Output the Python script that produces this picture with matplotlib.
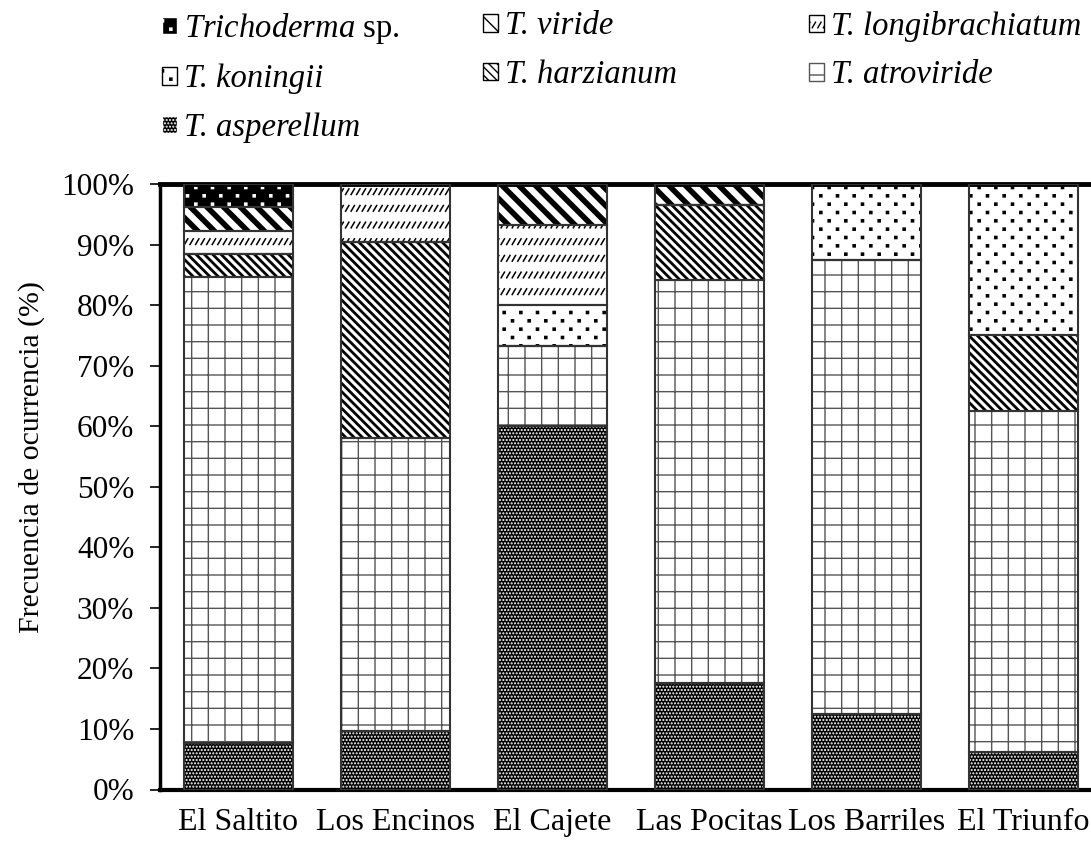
import matplotlib
matplotlib.use('Agg')
import matplotlib.pyplot as plt
from matplotlib import hatch as mhatch
from matplotlib.path import Path
from matplotlib.patches import Patch
import numpy as np

plt.rcParams['font.family'] = 'Liberation Serif'
plt.rcParams['mathtext.fontset'] = 'custom'
plt.rcParams['mathtext.rm'] = 'Liberation Serif'
plt.rcParams['mathtext.it'] = 'Liberation Serif:italic'

# data (% of isolates per site)
sites = ['El Saltito', 'Los Encinos', 'El Cajete', 'Las Pocitas', 'Los Barriles', 'El Triunfo']
asperellum = [7.7, 9.7, 60.0, 17.6, 12.5, 6.25]
atroviride = [76.9, 48.4, 13.3, 66.6, 75.0, 56.25]
harzianum = [3.85, 32.3, 0, 12.4, 0, 12.5]
koningii = [0, 0, 6.7, 0, 12.5, 25.0]
longibrachiatum = [3.85, 9.6, 13.3, 0, 0, 0]
viride = [3.85, 0, 6.7, 3.4, 0, 0]
tricho_sp = [3.85, 0, 0, 0, 0, 0]

yticks = [0, 10, 20, 30, 40, 50, 60, 70, 80, 90, 100]


# two extra hatch textures like the Excel ones:
# 'o' -> sparse staggered small dots, 'O' -> rows of short slashes
class SparseDots(mhatch.HatchPatternBase):
    def __init__(self, hatch, density):
        self.n = hatch.count('o') * density
        sq = Path.unit_rectangle()
        self.sv = (sq.vertices - 0.5) * 0.022
        self.sc = sq.codes
        pts = []
        if self.n:
            dx = 1.0 / self.n
            dy = dx / 2
            for r in range(2 * self.n):
                off = 0.25 * dx if r % 2 == 0 else 0.75 * dx
                for c in range(self.n):
                    pts.append((c * dx + off, r * dy + dy / 2))
        self.pts = pts
        self.num_vertices = len(pts) * len(self.sv)

    def set_vertices_and_codes(self, vertices, codes):
        vertices[:] = np.concatenate([self.sv + p for p in self.pts])
        codes[:] = np.tile(self.sc, len(self.pts))


class ShortSlashes(mhatch.HatchPatternBase):
    def __init__(self, hatch, density):
        self.n = hatch.count('O') * density
        self.m = 3 * self.n
        self.num_vertices = 2 * self.n * self.m

    def set_vertices_and_codes(self, vertices, codes):
        dy = 1.0 / self.n
        dx = 1.0 / self.m
        v = []
        for r in range(self.n):
            for c in range(self.m):
                x0, y0 = (c + 0.5) * dx, (r + 0.5) * dy
                v.append((x0 - 0.3 * dx, y0 - 0.17 * dy))
                v.append((x0 + 0.3 * dx, y0 + 0.17 * dy))
        vertices[:] = v
        codes[0::2] = Path.MOVETO
        codes[1::2] = Path.LINETO


mhatch._hatch_types = [t for t in mhatch._hatch_types
                       if t not in (mhatch.SmallCircles, mhatch.LargeCircles)]
mhatch._hatch_types += [SparseDots, ShortSlashes]

# stacking order bottom -> top: (values, label, face, hatchcolor, hatch, hatch lw)
series = [
    (asperellum, 'T. asperellum', 'black', 'white', '.....', 1.0),
    (atroviride, 'T. atroviride', 'white', '#555555', '+', 1.0),
    (harzianum, 'T. harzianum', 'white', 'black', '\\\\\\\\', 2.0),
    (koningii, 'T. koningii', 'white', 'black', 'o', 1.0),
    (longibrachiatum, 'T. longibrachiatum', 'white', 'black', 'O', 1.1),
    (viride, 'T. viride', 'white', 'black', '\\\\', 4.0),
    (tricho_sp, r'Trichoderma $\mathrm{sp.}$', 'black', 'white', 'o', 1.0),
]

fig = plt.figure(figsize=(10.91, 8.42), dpi=100)
ax = fig.add_axes([160/1091, 1-789.5/842, 942/1091, 605.5/842])

x = np.arange(len(sites))
w = 0.69
bottom = np.zeros(len(sites))
handles = {}
for vals, lab, fc, hc, hatch, hlw in series:
    vals = np.array(vals, dtype=float)
    with plt.rc_context({'hatch.linewidth': hlw}):
        bars = ax.bar(x, vals, w, bottom=bottom, color=fc, edgecolor=hc,
                      hatch=hatch, linewidth=0, zorder=2)
        for b in bars:
            if hasattr(b, 'set_hatch_linewidth'):
                b.set_hatch_linewidth(hlw)
    ax.bar(x, vals, w, bottom=bottom, fill=False, edgecolor='#333333',
           linewidth=1.5, zorder=3)
    # legend proxy
    with plt.rc_context({'hatch.linewidth': hlw * 0.7}):
        p = Patch(facecolor=fc, edgecolor=hc, hatch=hatch)
        if hasattr(p, 'set_hatch_linewidth'):
            p.set_hatch_linewidth(hlw * 0.7)
    handles[lab] = p
    bottom += vals

ax.set_xlim(-0.5, len(sites) - 0.5)
ax.set_ylim(0, 100)
ax.set_yticks(yticks)
ax.set_yticklabels([f'{t}%' for t in yticks])
ax.set_xticks(x)
ax.set_xticklabels(sites)
ax.tick_params(axis='y', labelsize=22.5, length=7.5, width=1.2, pad=11, direction='out')
ax.tick_params(axis='x', labelsize=23, length=0, pad=13)
ax.set_ylabel('Frecuencia de ocurrencia (%)', fontsize=21.5)
ax.yaxis.set_label_coords(-0.122, 0.549)
ax.spines['top'].set_linewidth(3.5)
ax.spines['bottom'].set_linewidth(3)
ax.spines['left'].set_linewidth(2.5)
ax.spines['right'].set_visible(False)

# legend in three columns, filled row-wise like the original
cols = [
    [r'Trichoderma $\mathrm{sp.}$', 'T. koningii', 'T. asperellum'],
    ['T. viride', 'T. harzianum'],
    ['T. longibrachiatum', 'T. atroviride'],
]
colx = [162, 483, 809]
for labs, cx in zip(cols, colx):
    fig.legend([handles[l] for l in labs], labs, loc='upper left',
               bbox_to_anchor=(cx / 1091, 1 - 11 / 842), frameon=False,
               prop={'size': 23.5, 'style': 'italic'},
               handlelength=0.45, handleheight=0.45, handletextpad=0.22,
               labelspacing=0.55, borderaxespad=0, borderpad=0)

fig.savefig('out.png', dpi=100)
